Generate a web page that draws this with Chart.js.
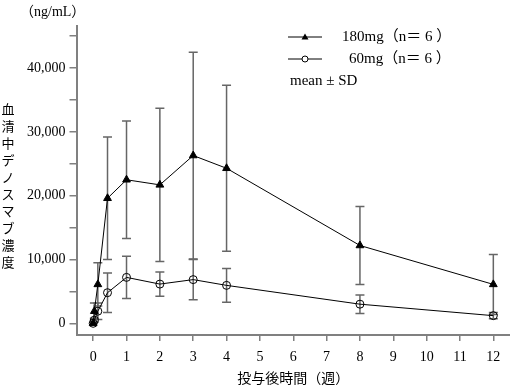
<!DOCTYPE html>
<html>
<head>
<meta charset="utf-8">
<script src="https://cdn.jsdelivr.net/npm/chart.js@4.4.1/dist/chart.umd.min.js"></script>
<style>
  html, body { margin: 0; padding: 0; background: #fff; }
  #wrap { position: relative; width: 510px; height: 387px; }
</style>
</head>
<body>
<div id="wrap"><canvas id="pkChart" width="510" height="387"></canvas></div>
<script>
// 投与後時間（週）
const weeks = [0, 0.036, 0.14, 0.43, 1, 2, 3, 4, 8, 12];
// 180mg 群 平均値と SD
const mean180 = [0, 1900, 6100, 19600, 22500, 21700, 26300, 24300, 12200, 6100];
const sd180 = [0, 1300, 3400, 9600, 9200, 12000, 16200, 13000, 6100, 4700];
// 60mg 群 平均値と SD
const mean60 = [0, 500, 1900, 4800, 7200, 6150, 6850, 5950, 3000, 1200];
const sd60 = [0, 300, 1300, 3100, 3300, 1900, 3150, 2650, 1450, 500];
// 目盛り
const xTicks = [0, 1, 2, 3, 4, 5, 6, 7, 8, 9, 10, 11, 12];
const yLabelTicks = [0, 10000, 20000, 30000, 40000];

const legendLabels = ['180mg（n＝ 6 ）', '60mg（n＝ 6 ）'];
const noteText = 'mean ± SD';
const unitText = '（ng/mL）';
const yTitle = '血清中デノスマブ濃度';
const xTitle = '投与後時間（週）';

const FONT = "'Liberation Serif', 'Noto Sans CJK JP', serif";
const AXIS_GREY = '#808080';

function toPoints(means) {
    return weeks.map((w, i) => ({ x: w, y: means[i] }));
}

// エラーバー（SD）
const errorBarPlugin = {
    id: 'errorBars',
    beforeDatasetsDraw: function(chart) {
        const ctx = chart.ctx;
        const xs = chart.scales.x;
        const ys = chart.scales.y;
        const sets = [[mean180, sd180], [mean60, sd60]];
        ctx.save();
        ctx.strokeStyle = '#666';
        ctx.lineWidth = 1.5;
        sets.forEach(function(pair) {
            pair[0].forEach(function(m, i) {
                const sd = pair[1][i];
                if (!sd) return;
                const x = xs.getPixelForValue(weeks[i]);
                const yTop = ys.getPixelForValue(m + sd);
                const yBot = ys.getPixelForValue(m - sd);
                ctx.beginPath();
                ctx.moveTo(x, yTop);
                ctx.lineTo(x, yBot);
                ctx.moveTo(x - 4.5, yTop);
                ctx.lineTo(x + 4.5, yTop);
                ctx.moveTo(x - 4.5, yBot);
                ctx.lineTo(x + 4.5, yBot);
                ctx.stroke();
            });
        });
        ctx.restore();
    }
};

// 凡例・単位・縦書きタイトル
const extrasPlugin = {
    id: 'extras',
    afterDraw: function(chart) {
        const ctx = chart.ctx;
        ctx.save();
        ctx.fillStyle = '#000';
        ctx.strokeStyle = '#000';
        ctx.font = '14px ' + FONT;
        ctx.textBaseline = 'middle';

        // 単位
        ctx.textAlign = 'left';
        ctx.fillText(unitText, 20, 12);

        // 縦書きタイトル
        ctx.textAlign = 'center';
        ctx.font = '13px ' + FONT;
        for (let i = 0; i < yTitle.length; i++) {
            ctx.fillText(yTitle[i], 8, 111 + i * 17);
        }

        // 凡例
        ctx.font = '15px ' + FONT;
        ctx.textAlign = 'left';
        ctx.lineWidth = 1;
        const rows = [37, 59];
        rows.forEach(function(y, i) {
            ctx.beginPath();
            ctx.moveTo(288, y);
            ctx.lineTo(322, y);
            ctx.stroke();
            if (i === 0) {
                ctx.beginPath();
                ctx.moveTo(305, y - 3.5);
                ctx.lineTo(308.5, y + 2.5);
                ctx.lineTo(301.5, y + 2.5);
                ctx.closePath();
                ctx.fill();
            } else {
                ctx.beginPath();
                ctx.arc(305, y, 3, 0, Math.PI * 2);
                ctx.fillStyle = '#fff';
                ctx.fill();
                ctx.stroke();
                ctx.fillStyle = '#000';
            }
        });
        ctx.fillText(legendLabels[0], 342, rows[0]);
        ctx.fillText(legendLabels[1], 349, rows[1]);
        ctx.fillText(noteText, 290, 81);
        ctx.restore();
    }
};

const ctx = document.getElementById('pkChart').getContext('2d');
new Chart(ctx, {
    type: 'line',
    data: {
        datasets: [{
            label: '180mg',
            data: toPoints(mean180),
            borderColor: '#000',
            borderWidth: 1,
            pointStyle: 'triangle',
            pointRadius: 4.5,
            pointBackgroundColor: '#000',
            pointBorderColor: '#000',
            pointBorderWidth: 1,
            tension: 0
        }, {
            label: '60mg',
            data: toPoints(mean60),
            borderColor: '#000',
            borderWidth: 1,
            pointStyle: 'circle',
            pointRadius: 4,
            pointBackgroundColor: 'rgba(0,0,0,0)',
            pointBorderColor: '#000',
            pointBorderWidth: 1,
            tension: 0
        }]
    },
    options: {
        responsive: false,
        animation: false,
        devicePixelRatio: 1,
        layout: { autoPadding: false, padding: { left: 23, top: 26, right: 0, bottom: 0 } },
        plugins: {
            legend: { display: false },
            tooltip: { enabled: false }
        },
        scales: {
            x: {
                type: 'linear',
                min: -0.5,
                max: 12.5,
                afterBuildTicks: function(axis) {
                    axis.ticks = xTicks.map(v => ({ value: v }));
                },
                afterFit: function(axis) {
                    axis.height = 52;
                },
                ticks: {
                    color: '#000',
                    font: { family: FONT, size: 14 },
                    padding: 8,
                    maxRotation: 0,
                    autoSkip: false
                },
                grid: {
                    drawOnChartArea: false,
                    drawTicks: true,
                    tickLength: 6,
                    color: AXIS_GREY,
                    lineWidth: 1.5
                },
                border: { display: true, color: AXIS_GREY, width: 2 },
                title: {
                    display: true,
                    text: xTitle,
                    color: '#000',
                    font: { family: FONT, size: 14 },
                    padding: { top: 4, bottom: -1 }
                }
            },
            y: {
                type: 'linear',
                min: -1830,
                max: 46600,
                afterBuildTicks: function(axis) {
                    const t = [];
                    for (let v = 0; v <= 45000; v += 5000) t.push({ value: v });
                    axis.ticks = t;
                },
                ticks: {
                    color: '#000',
                    font: { family: FONT, size: 14 },
                    padding: 4,
                    callback: function(value) {
                        return yLabelTicks.includes(value) ? value.toLocaleString('en-US') : '';
                    }
                },
                grid: {
                    drawOnChartArea: false,
                    drawTicks: true,
                    tickLength: 7,
                    color: AXIS_GREY,
                    lineWidth: 1.5
                },
                border: { display: true, color: AXIS_GREY, width: 2 }
            }
        }
    },
    plugins: [errorBarPlugin, extrasPlugin]
});
</script>
</body>
</html>
